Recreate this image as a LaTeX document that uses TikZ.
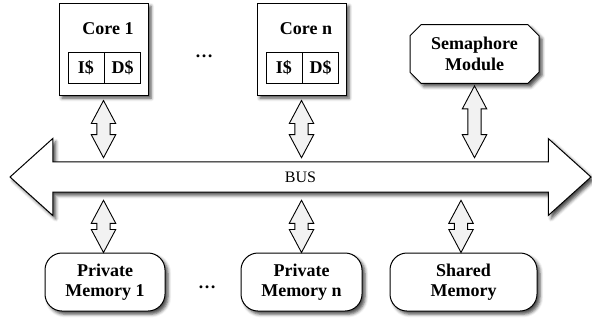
\documentclass[tikz,border=0pt]{standalone}
\usepackage{fontspec}
\setmainfont{Liberation Serif}
\usetikzlibrary{positioning, calc, shapes.arrows, shapes.misc, shadows.blur}
\tikzset{
  shade box/.style={draw, fill=white, line width=0.5pt,
    blur shadow={shadow xshift=1.5pt, shadow yshift=-1.6pt, shadow blur radius=1.6pt, shadow opacity=70}},
  label font/.style={font=\bfseries\fontsize{9}{10.25}\selectfont},
  core/.style={rectangle, shade box, minimum width=44.5pt, minimum height=46pt},
  cell/.style={rectangle, draw, line width=0.4pt, minimum width=18pt, minimum height=15.5pt, inner sep=0pt, label font},
  title/.style={inner sep=0pt, label font},
  module/.style={chamfered rectangle, chamfered rectangle xsep=2.5pt, shade box, minimum width=64.5pt, minimum height=29pt, label font},
  mem/.style={rectangle, rounded corners=8.5pt, shade box, minimum height=29pt, label font},
  bus/.style={double arrow, shade box, double arrow tip angle=84, double arrow head extend=9.6pt,
    minimum height=290.5pt, minimum width=38.5pt, font=\fontsize{8}{9}\selectfont},
  link/.style={double arrow, draw, fill=gray!10, line width=0.45pt, rotate=90, inner xsep=0pt, inner ysep=3.1pt,
    double arrow tip angle=56, double arrow head extend=2.8pt},
  dotsmark/.style={anchor=base, inner sep=0pt, label font}
}
% hollow two-way arrow between two points
\newcommand{\linkarrow}[3]{%
  \path let \p1=(#2), \p2=(#3), \n1={veclen(\x2-\x1,\y2-\y1)} in
    node[link, minimum height=\n1] (#1) at ($(\p1)!0.5!(\p2)$) {};
}

\begin{document}
\begin{tikzpicture}[x=1pt, y=1pt, every node/.style={align=center}]
  \useasboundingbox (0,0) rectangle (296,-160.5);

  % processing cores with their caches
  \node[core] (core1) at (51.75,-24.5) {};
  \node[core, right=54pt of core1] (coren) {};
  \node[title, below=10pt of core1.north, xshift=2.25pt] (t1) {Core 1};
  \node[title, below=10pt of coren.north, xshift=2.25pt] (tn) {Core n};
  \node[cell, anchor=south west, above right=6pt and 4.5pt of core1.south west] (ic1) {I\$};
  \node[cell, right=0pt of ic1] (dc1) {D\$};
  \node[cell, anchor=south west, above right=6pt and 4.5pt of coren.south west] (icn) {I\$};
  \node[cell, right=0pt of icn] (dcn) {D\$};
  \node[dotsmark] (dtop) at (102,-28.5) {\dots};

  % semaphore unit
  \node[module] (sem) at (237.25,-27) {Semaphore\\Module};

  % shared bus
  \node[bus] (bus) at (150.25,-88.5) {BUS};
  \coordinate (bustop) at ($(bus.center)+(0,9.65)$);
  \coordinate (busbot) at ($(bus.center)-(0,9.65)$);

  % memories
  \node[mem, minimum width=60pt] (pm1) at (52.5,-141) {Private\\Memory 1};
  \node[mem, minimum width=60.5pt, right=37.5pt of pm1] (pmn) {Private\\Memory n};
  \node[mem, minimum width=73.5pt, right=13.5pt of pmn] (shared) {Shared\\Memory};
  \node[dotsmark] (dbot) at (103.5,-144) {\dots};

  % bus connections
  \linkarrow{a1}{$(core1.south)+(0,-2.5)$}{core1.south |- bustop}
  \linkarrow{an}{$(coren.south)+(0,-2.5)$}{coren.south |- bustop}
  \linkarrow{as}{$(sem.south)+(0,-1)$}{sem.south |- bustop}
  \linkarrow{b1}{$(core1.south |- busbot)+(0,-2)$}{core1.south |- pm1.north}
  \linkarrow{bn}{$(coren.south |- busbot)+(0,-2)$}{coren.south |- pmn.north}
  \linkarrow{bs}{$(shared.north |- busbot)+(-1.25,-2)$}{$(shared.north)+(-1.25,0)$}
\end{tikzpicture}
\end{document}
